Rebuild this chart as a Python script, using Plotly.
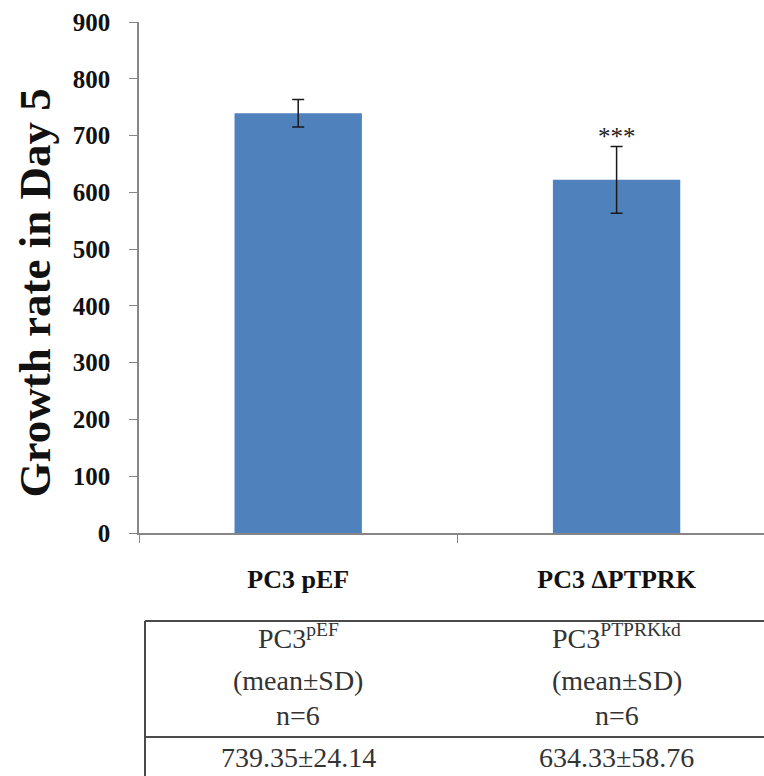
import plotly.graph_objects as go

categories = ["PC3 pEF", "PC3 ΔPTPRK"]
growth = [739.35, 622.0]
sd = [24.14, 58.76]
significance = ["", "***"]
significance_y = [None, 699]
y_ticks = [0, 100, 200, 300, 400, 500, 600, 700, 800, 900]

table_header = [
    ["PC3<sup>pEF</sup>", "(mean±SD)", "n=6"],
    ["PC3<sup>PTPRKkd</sup>", "(mean±SD)", "n=6"],
]
table_values = ["739.35±24.14", "634.33±58.76"]
y_title = "Growth rate in Day 5"

SERIF = "Liberation Serif, Times New Roman, serif"
AXIS_GRAY = "#868686"

fig = go.Figure()
fig.add_trace(go.Bar(
    x=categories, y=growth, width=0.4,
    marker=dict(color="#4F81BD", line=dict(width=0)),
    error_y=dict(type="data", array=sd, visible=True, color="#1a1a1a",
                 thickness=1.5, width=6),
    showlegend=False,
))

# significance stars
for c, s, sy in zip(categories, significance, significance_y):
    if s:
        fig.add_annotation(x=c, y=sy, xref="x", yref="y", text=s, showarrow=False,
                           font=dict(family=SERIF, size=25, color="#222"),
                           yanchor="middle")

# y-axis title (placed slightly below the axis centre, as in the reference)
fig.add_annotation(x=-0.167, y=0.47, xref="paper", yref="paper", text=y_title,
                   textangle=-90, showarrow=False, xanchor="center", yanchor="middle",
                   font=dict(family=SERIF, size=45, color="#111", weight="bold"))

# table below the chart
row_y = [-0.2016, -0.2877, -0.358]
for ci, col in enumerate(table_header):
    for ri, txt in enumerate(col):
        fig.add_annotation(x=ci, y=row_y[ri], xref="x", yref="paper", text=txt,
                           showarrow=False, yanchor="middle",
                           font=dict(family=SERIF, size=28, color="#333"))
    fig.add_annotation(x=ci, y=-0.44, xref="x", yref="paper", text=table_values[ci],
                       showarrow=False, yanchor="middle",
                       font=dict(family=SERIF, size=28, color="#333"))

line_style = dict(color="#4a4a4a", width=2)
fig.add_shape(type="line", xref="paper", yref="paper", x0=0.0096, x1=1.0,
              y0=-0.1722, y1=-0.1722, line=line_style)
fig.add_shape(type="line", xref="paper", yref="paper", x0=0.0096, x1=1.0,
              y0=-0.399, y1=-0.399, line=line_style)
fig.add_shape(type="line", xref="paper", yref="paper", x0=0.0096, x1=0.0096,
              y0=-0.1722, y1=-0.48, line=line_style)

fig.update_layout(
    width=764, height=776,
    margin=dict(l=139, r=0, t=22, b=243),
    paper_bgcolor="white", plot_bgcolor="white",
    bargap=0.6,
    xaxis=dict(
        type="category", range=[-0.5, 1.463],
        showline=True, linecolor=AXIS_GRAY, linewidth=1.5,
        ticks="outside", tickson="boundaries", ticklen=8, tickcolor=AXIS_GRAY,
        tickfont=dict(family=SERIF, size=26, color="#111", weight="bold"),
        ticklabelstandoff=22,
        showgrid=False, zeroline=False,
    ),
    yaxis=dict(
        range=[0, 900], tickvals=y_ticks,
        showline=True, linecolor=AXIS_GRAY, linewidth=1.5,
        ticks="outside", ticklen=8, tickcolor=AXIS_GRAY,
        tickfont=dict(family=SERIF, size=25, color="#111", weight="bold"),
        ticklabelstandoff=14,
        showgrid=False, zeroline=False,
    ),
)

fig.write_html("out.html")
